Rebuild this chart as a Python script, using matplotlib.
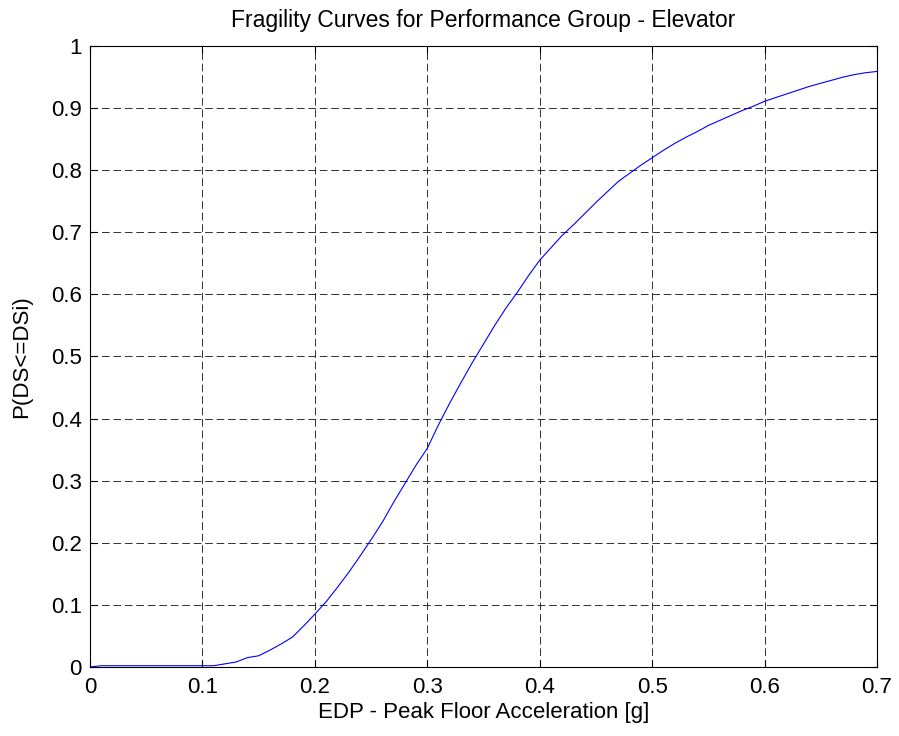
import numpy as np
import matplotlib
matplotlib.use("Agg")
import matplotlib.pyplot as plt

plt.rcParams['font.family'] = ['Liberation Sans', 'DejaVu Sans']

# EDP values and probability
edp = [0.0, 0.01, 0.05, 0.10, 0.11, 0.12, 0.13, 0.14, 0.15, 0.16, 0.17, 0.18, 0.19,
       0.20, 0.21, 0.22, 0.23, 0.24, 0.25, 0.26, 0.27, 0.28, 0.29,
       0.30, 0.31, 0.32, 0.33, 0.34, 0.35, 0.36, 0.37, 0.38, 0.39,
       0.40, 0.41, 0.42, 0.43, 0.44, 0.45, 0.46, 0.47, 0.48, 0.49,
       0.50, 0.51, 0.52, 0.53, 0.54, 0.55, 0.56, 0.57, 0.58, 0.59,
       0.60, 0.61, 0.62, 0.63, 0.64, 0.65, 0.66, 0.67, 0.68, 0.69, 0.70]
prob = [0.0, 0.002, 0.002, 0.002, 0.002, 0.005, 0.008, 0.015, 0.018, 0.027, 0.037, 0.048, 0.066,
        0.085, 0.105, 0.128, 0.152, 0.178, 0.205, 0.233, 0.265, 0.295, 0.325,
        0.352, 0.39, 0.425, 0.458, 0.49, 0.52, 0.55, 0.578, 0.603, 0.63,
        0.655, 0.675, 0.695, 0.712, 0.73, 0.748, 0.765, 0.782, 0.795, 0.808,
        0.82, 0.832, 0.843, 0.853, 0.862, 0.872, 0.88, 0.888, 0.896, 0.903,
        0.911, 0.917, 0.923, 0.929, 0.935, 0.94, 0.945, 0.95, 0.954, 0.957, 0.959]

xticks = [0, 0.1, 0.2, 0.3, 0.4, 0.5, 0.6, 0.7]
xlabels = ['0', '0.1', '0.2', '0.3', '0.4', '0.5', '0.6', '0.7']
yticks = [0, 0.1, 0.2, 0.3, 0.4, 0.5, 0.6, 0.7, 0.8, 0.9, 1]
ylabels = ['0', '0.1', '0.2', '0.3', '0.4', '0.5', '0.6', '0.7', '0.8', '0.9', '1']

fig = plt.figure(figsize=(8.99, 7.36), dpi=100)
ax = fig.add_axes([0.1001, 0.0938, 0.8754, 0.8437])

ax.plot(edp, prob, color='#0000ff', linewidth=0.8)

ax.set_xlim(0, 0.7)
ax.set_ylim(0, 1)
ax.set_xticks(xticks)
ax.set_xticklabels(xlabels)
ax.set_yticks(yticks)
ax.set_yticklabels(ylabels)
ax.tick_params(direction='in', length=5, width=0.8, labelsize=16,
               top=True, right=True)
ax.tick_params(axis='x', pad=7)
ax.tick_params(axis='y', pad=6)
ax.grid(True, color='#222222', linestyle=(0, (8.5, 4.2)), linewidth=0.65)
for s in ax.spines.values():
    s.set_linewidth(0.8)

ax.set_title("Fragility Curves for Performance Group - Elevator", fontsize=16.5, pad=13.5)
ax.set_xlabel("EDP - Peak Floor Acceleration [g]", fontsize=16, labelpad=3)
ax.set_ylabel("P(DS<=DSi)", fontsize=16, labelpad=13)

fig.savefig("out.png", dpi=100)
